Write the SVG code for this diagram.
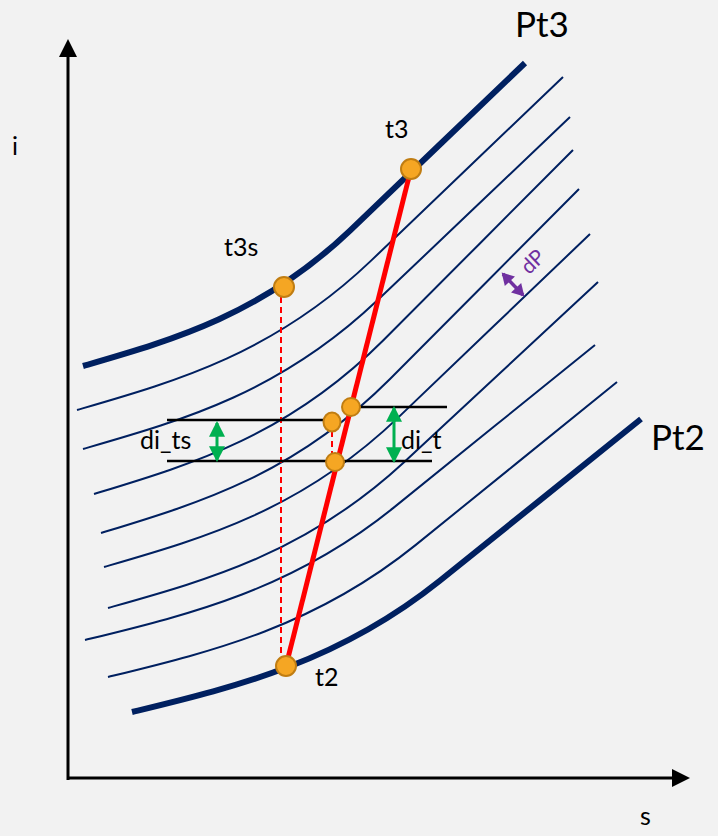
<svg xmlns="http://www.w3.org/2000/svg" xmlns:xlink="http://www.w3.org/1999/xlink" width="718" height="836" viewBox="0 0 718 836">
<style>
.bg{fill:#F2F2F2}
.thick{fill:none;stroke:#002060;stroke-width:6}
.thin{fill:none;stroke:#002060;stroke-width:2}
.axis{fill:none;stroke:#000;stroke-width:3}
.hl{fill:none;stroke:#000;stroke-width:2.5}
.pt{fill:#F5A623;stroke:#C07D12;stroke-width:2}
.red{fill:none;stroke:#FF0000;stroke-width:5}
.dash{fill:none;stroke:#FF0000;stroke-width:2;stroke-dasharray:6 4}
.green{fill:none;stroke:#00B050;stroke-width:3}
.purple{fill:none;stroke:#7030A0;stroke-width:3.5}
text{font-family:Lato,"Open Sans","Liberation Sans",sans-serif;fill:#000}
.lbl{font-size:25px}
.big{font-size:35px}
</style>
<defs>
<path id="iso" vector-effect="non-scaling-stroke" d="M0,0 C0.2014,-0.0854 0.4027,-0.1669 0.6041,-0.447 C0.7361,-0.6313 0.868,-0.8157 1,-1"/>
<marker id="axhead" markerUnits="userSpaceOnUse" markerWidth="18" markerHeight="18" viewBox="0 0 16 16" refX="0" refY="8" orient="auto">
<path d="M0,0 L16,8 L0,16 Z" fill="#000"/>
</marker>
<marker id="ghead" markerUnits="userSpaceOnUse" markerWidth="16" markerHeight="16" viewBox="0 0 15 15" refX="13" refY="7.5" orient="auto-start-reverse">
<path d="M0,0 L15,7.5 L0,15 Z" fill="#00B050"/>
</marker>
<marker id="phead" markerUnits="userSpaceOnUse" markerWidth="14" markerHeight="14" viewBox="0 0 12 14" refX="10" refY="7" orient="auto-start-reverse">
<path d="M0,0 L12,7 L0,14 Z" fill="#7030A0"/>
</marker>
</defs>
<rect class="bg" x="0" y="0" width="718" height="836"/>

<g id="axes">
<line class="axis" x1="68" y1="780" x2="68" y2="57" marker-end="url(#axhead)"/>
<line class="axis" x1="67" y1="778" x2="672" y2="778" marker-end="url(#axhead)"/>
<text class="lbl" x="12" y="155">i</text>
<text class="lbl" x="640" y="825">s</text>
</g>

<g id="isobars">
<use id="pt3-curve" class="thick" href="#iso" xlink:href="#iso" transform="translate(83 366) scale(442 303)"/>
<use class="thin" href="#iso" xlink:href="#iso" transform="translate(77 410) scale(486 333)"/>
<use class="thin" href="#iso" xlink:href="#iso" transform="translate(83 449) scale(487 332)"/>
<use class="thin" href="#iso" xlink:href="#iso" transform="translate(94 494) scale(479 344)"/>
<use class="thin" href="#iso" xlink:href="#iso" transform="translate(101 533) scale(478 344)"/>
<use class="thin" href="#iso" xlink:href="#iso" transform="translate(104 567) scale(486 333)"/>
<use class="thin" href="#iso" xlink:href="#iso" transform="translate(108 608) scale(490 326)"/>
<use class="thin" href="#iso" xlink:href="#iso" transform="translate(85 640) scale(510 295)"/>
<use class="thin" href="#iso" xlink:href="#iso" transform="translate(108 677) scale(509 295)"/>
<use id="pt2-curve" class="thick" href="#iso" xlink:href="#iso" transform="translate(132 712) scale(509 293)"/>
<text class="big" x="515" y="37">Pt3</text>
<text class="big" x="651" y="450">Pt2</text>
</g>

<g id="process">
<line class="dash" x1="281" y1="297" x2="281" y2="657"/>
<line class="dash" x1="332" y1="431" x2="332" y2="455"/>
<line class="red" x1="286" y1="666" x2="411" y2="169"/>
<line class="hl" x1="167" y1="420" x2="328" y2="420"/>
<line class="hl" x1="167" y1="461" x2="432" y2="461"/>
<line class="hl" x1="356" y1="407" x2="447" y2="407"/>
<line class="green" x1="217" y1="423" x2="217" y2="460" marker-start="url(#ghead)" marker-end="url(#ghead)"/>
<line class="green" x1="394" y1="408" x2="394" y2="461" marker-start="url(#ghead)" marker-end="url(#ghead)"/>
<text class="lbl" x="140" y="449">di_ts</text>
<text class="lbl" x="401" y="449">di_t</text>
<line class="purple" x1="503" y1="274" x2="523" y2="295" marker-start="url(#phead)" marker-end="url(#phead)"/>
<text x="534" y="263" font-size="21" style="fill:#7030A0" text-anchor="middle" dominant-baseline="middle" transform="rotate(-44 534 263)">dP</text>
</g>

<g id="points">
<g id="t3"><circle class="pt" cx="411" cy="169" r="10"/><text class="lbl" x="385" y="138">t3</text></g>
<g id="t3s"><circle class="pt" cx="284" cy="287" r="10"/><text class="lbl" x="224" y="256">t3s</text></g>
<g id="t2"><circle class="pt" cx="286" cy="666" r="10"/><text class="lbl" x="315" y="686">t2</text></g>
<g id="p-upper"><circle class="pt" cx="351" cy="407" r="9"/></g>
<g id="p-mid"><ellipse class="pt" cx="332" cy="422" rx="8.5" ry="9.5"/></g>
<g id="p-lower"><circle class="pt" cx="335" cy="462" r="9"/></g>
</g>
</svg>
